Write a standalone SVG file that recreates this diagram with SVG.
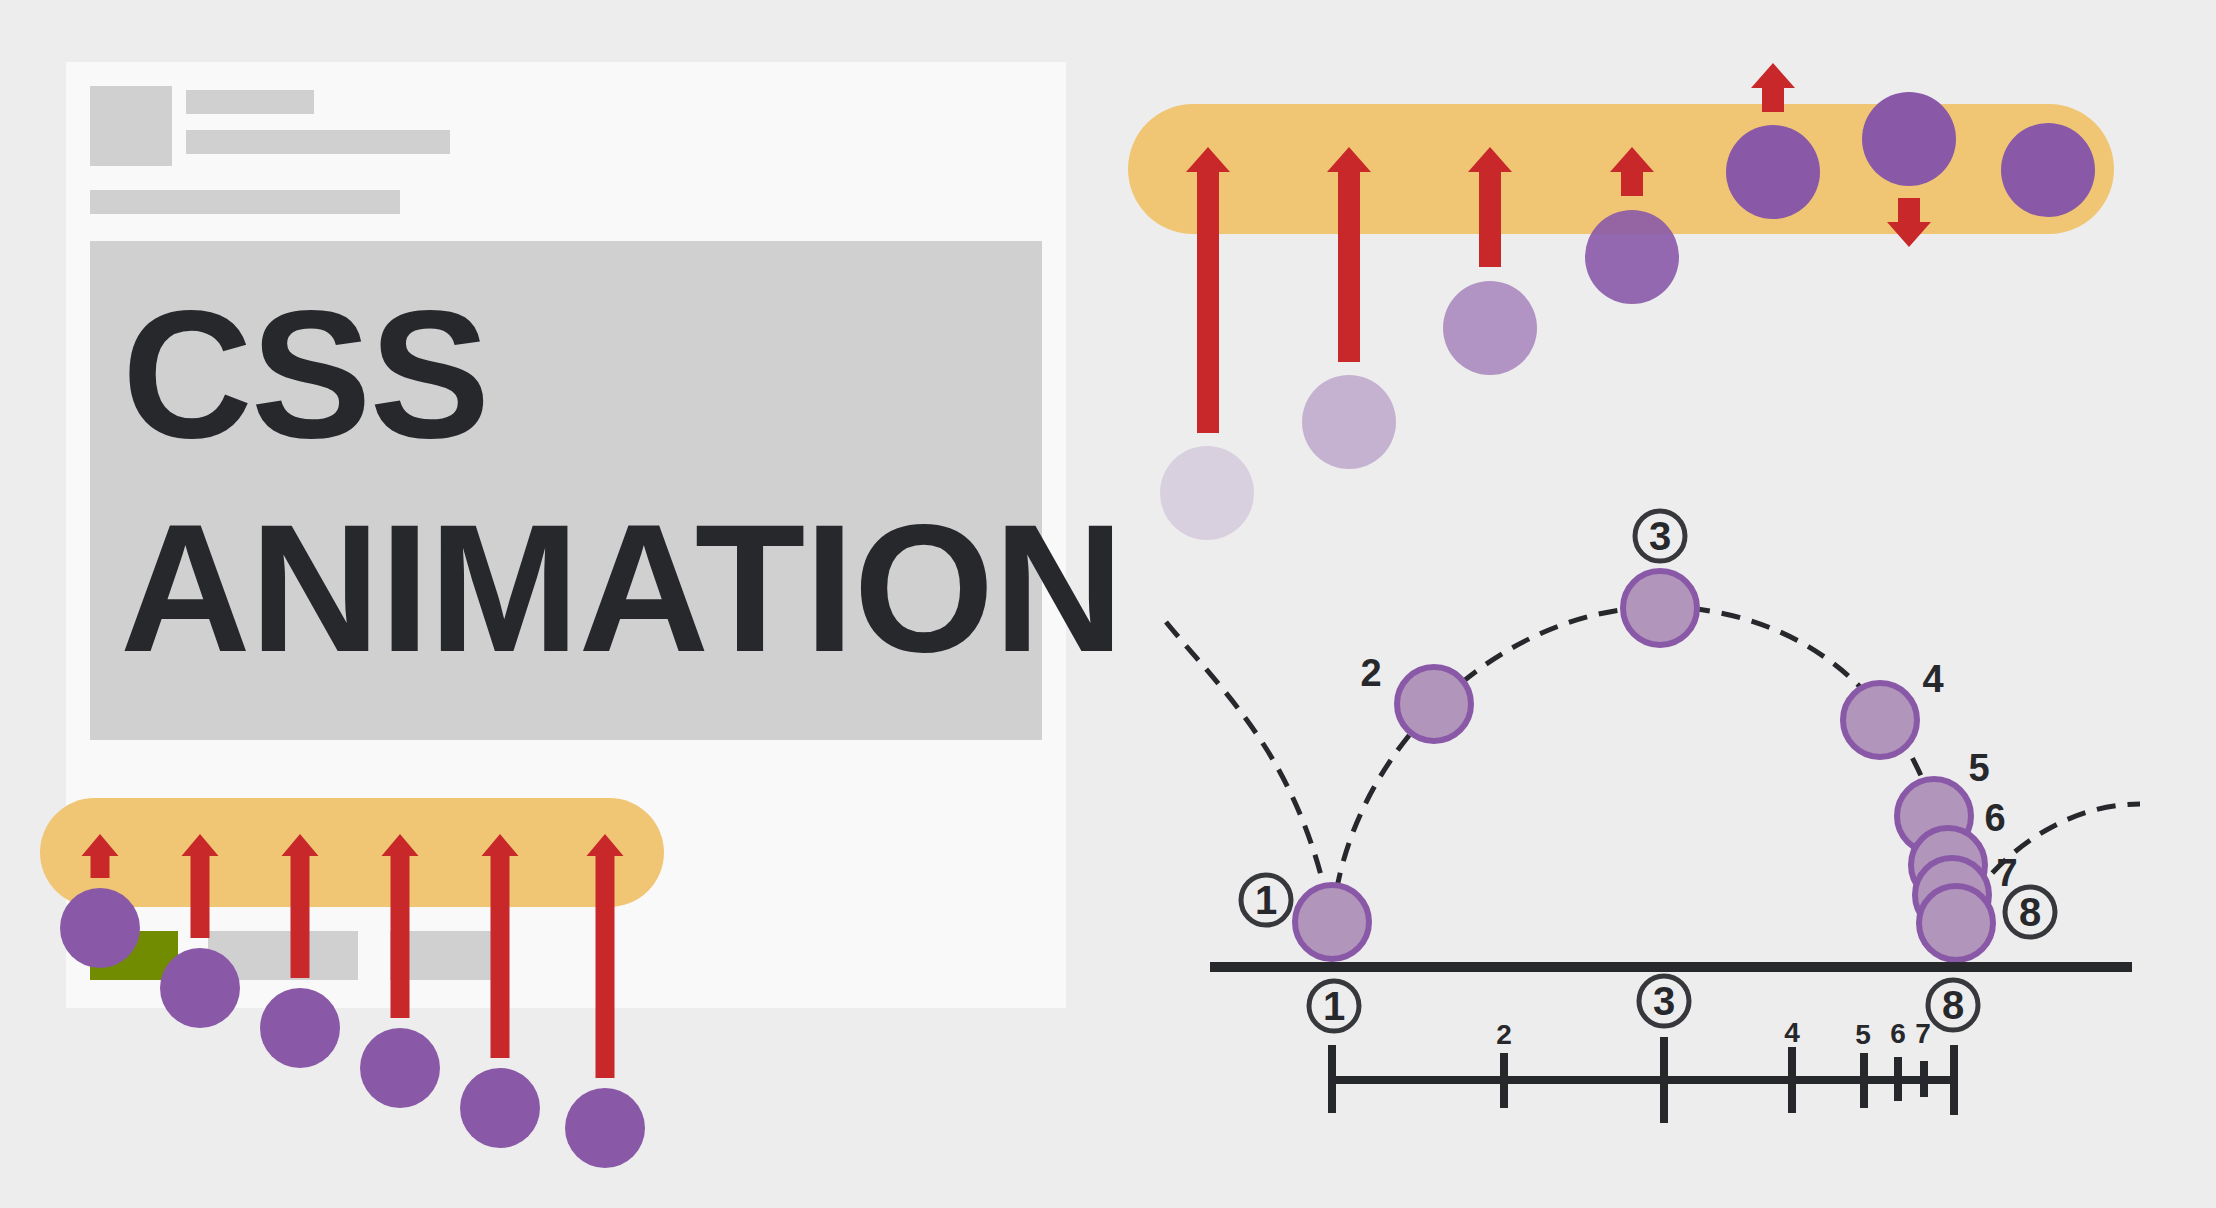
<svg xmlns="http://www.w3.org/2000/svg" width="2216" height="1208" viewBox="0 0 2216 1208">
<style>
.bg{fill:#ededed}
.panel{fill:#f9f9f9}
.gray{fill:#d0d0d0}
.pill{fill:#f0c674}
.arrow{fill:#c82829}
.pball{fill:#8959a8}
.bball{fill:#b195bb;stroke:#8959a8;stroke-width:6}
.dash{fill:none;stroke:#27282c;stroke-width:5;stroke-dasharray:19 12}
.title{font-family:"Liberation Sans",Arial,Helvetica,sans-serif;font-weight:bold;font-size:181px;fill:#27282c}
.num{font-family:"Liberation Sans",Arial,Helvetica,sans-serif;font-weight:bold;fill:#27282c;text-anchor:middle}
.lbl{font-size:38px}
.tick-lbl{font-size:28px}
.cnum{font-size:40px}
.ring{fill:none;stroke:#36383c;stroke-width:5}
.ink{fill:#27282c}
</style>
<rect class="bg" x="0" y="0" width="2216" height="1208"/>

<g id="page">
  <rect class="panel" x="66" y="62" width="1000" height="946"/>
  <rect class="gray" x="90" y="86" width="82" height="80"/>
  <rect class="gray" x="186" y="90" width="128" height="24"/>
  <rect class="gray" x="186" y="130" width="264" height="24"/>
  <rect class="gray" x="90" y="190" width="310" height="24"/>
  <rect class="gray" x="90" y="241" width="952" height="499"/>
  <rect x="90" y="931" width="88" height="49" fill="#718c00"/>
  <rect class="gray" x="208" y="931" width="150" height="49"/>
  <rect class="gray" x="390" y="931" width="110" height="49"/>
</g>

<g id="title">
  <text class="title" x="122" y="437" letter-spacing="-2">CSS</text>
  <text class="title" x="120" y="651" letter-spacing="-1">ANIMATION</text>
</g>

<g id="left-staggered">
  <rect class="pill" x="40" y="798" width="624" height="109" rx="54.5"/>
  <polygon class="arrow" points="100,834 118.5,856 109.5,856 109.5,878 90.5,878 90.5,856 81.5,856"/>
  <polygon class="arrow" points="200,834 218.5,856 209.5,856 209.5,938 190.5,938 190.5,856 181.5,856"/>
  <polygon class="arrow" points="300,834 318.5,856 309.5,856 309.5,978 290.5,978 290.5,856 281.5,856"/>
  <polygon class="arrow" points="400,834 418.5,856 409.5,856 409.5,1018 390.5,1018 390.5,856 381.5,856"/>
  <polygon class="arrow" points="500,834 518.5,856 509.5,856 509.5,1058 490.5,1058 490.5,856 481.5,856"/>
  <polygon class="arrow" points="605,834 623.5,856 614.5,856 614.5,1078 595.5,1078 595.5,856 586.5,856"/>
  <circle class="pball" cx="100" cy="928" r="40"/>
  <circle class="pball" cx="200" cy="988" r="40"/>
  <circle class="pball" cx="300" cy="1028" r="40"/>
  <circle class="pball" cx="400" cy="1068" r="40"/>
  <circle class="pball" cx="500" cy="1108" r="40"/>
  <circle class="pball" cx="605" cy="1128" r="40"/>
</g>

<g id="top-easing">
  <rect class="pill" x="1128" y="104" width="986" height="130" rx="65"/>
  <polygon class="arrow" points="1208,147 1230,172 1219,172 1219,433 1197,433 1197,172 1186,172"/>
  <polygon class="arrow" points="1349,147 1371,172 1360,172 1360,362 1338,362 1338,172 1327,172"/>
  <polygon class="arrow" points="1490,147 1512,172 1501,172 1501,267 1479,267 1479,172 1468,172"/>
  <polygon class="arrow" points="1632,147 1654,172 1643,172 1643,196 1621,196 1621,172 1610,172"/>
  <polygon class="arrow" points="1773,63 1795,88 1784,88 1784,112 1762,112 1762,88 1751,88"/>
  <polygon class="arrow" points="1909,247 1931,222 1920,222 1920,198 1898,198 1898,222 1887,222"/>
  <circle class="pball" cx="1207" cy="493" r="47" fill-opacity="0.2"/>
  <circle class="pball" cx="1349" cy="422" r="47" fill-opacity="0.4"/>
  <circle class="pball" cx="1490" cy="328" r="47" fill-opacity="0.6"/>
  <circle class="pball" cx="1632" cy="257" r="47" fill-opacity="0.9"/>
  <circle class="pball" cx="1773" cy="172" r="47"/>
  <circle class="pball" cx="1909" cy="139" r="47"/>
  <circle class="pball" cx="2048" cy="170" r="47"/>
</g>

<g id="connectors">
  <path class="dash" d="M1166,622 C1230,700 1300,760 1332,922"/>
  <path class="dash" d="M1332,922 C1348,745 1505,607 1660,607"/>
  <path class="dash" d="M1660,607 C1800,607 1940,700 1956,923"/>
  <path class="dash" d="M1956,923 C1990,860 2060,804 2140,804"/>
</g>

<g id="bounce-labels">
  <text class="num lbl" x="1371" y="686">2</text>
  <text class="num lbl" x="1933" y="692">4</text>
  <text class="num lbl" x="1979" y="781">5</text>
  <text class="num lbl" x="1995" y="831">6</text>
  <text class="num lbl" x="2007" y="886">7</text>
</g>

<g id="bounce-balls">
  <circle class="bball" cx="1332" cy="922" r="37"/>
  <circle class="bball" cx="1434" cy="704" r="37"/>
  <circle class="bball" cx="1660" cy="608" r="37"/>
  <circle class="bball" cx="1880" cy="720" r="37"/>
  <circle class="bball" cx="1934" cy="816" r="37"/>
  <circle class="bball" cx="1948" cy="865" r="37"/>
  <circle class="bball" cx="1952" cy="895" r="37"/>
  <circle class="bball" cx="1956" cy="923" r="37"/>
</g>

<g id="ground">
  <rect class="ink" x="1210" y="962" width="922" height="10"/>
</g>

<g id="key-1-top">
  <circle class="ring" cx="1266" cy="900" r="25"/>
  <text class="num cnum" x="1266" y="914">1</text>
</g>
<g id="key-3-top">
  <circle class="ring" cx="1660" cy="536" r="25"/>
  <text class="num cnum" x="1660" y="550">3</text>
</g>
<g id="key-8-top">
  <circle class="ring" cx="2030" cy="912" r="25"/>
  <text class="num cnum" x="2030" y="926">8</text>
</g>
<g id="key-1-bottom">
  <circle class="ring" cx="1334" cy="1006" r="25"/>
  <text class="num cnum" x="1334" y="1020">1</text>
</g>
<g id="key-3-bottom">
  <circle class="ring" cx="1664" cy="1001" r="25"/>
  <text class="num cnum" x="1664" y="1015">3</text>
</g>
<g id="key-8-bottom">
  <circle class="ring" cx="1953" cy="1005" r="25"/>
  <text class="num cnum" x="1953" y="1019">8</text>
</g>

<g id="timeline">
  <rect class="ink" x="1332" y="1076" width="622" height="8"/>
  <rect class="ink" x="1328" y="1045" width="8" height="68"/>
  <rect class="ink" x="1500" y="1053" width="8" height="55"/>
  <rect class="ink" x="1660" y="1037" width="8" height="86"/>
  <rect class="ink" x="1788" y="1047" width="8" height="66"/>
  <rect class="ink" x="1860" y="1053" width="8" height="55"/>
  <rect class="ink" x="1894" y="1057" width="8" height="44"/>
  <rect class="ink" x="1920" y="1061" width="8" height="36"/>
  <rect class="ink" x="1950" y="1045" width="8" height="70"/>
  <text class="num tick-lbl" x="1504" y="1044">2</text>
  <text class="num tick-lbl" x="1792" y="1042">4</text>
  <text class="num tick-lbl" x="1863" y="1044">5</text>
  <text class="num tick-lbl" x="1898" y="1043">6</text>
  <text class="num tick-lbl" x="1923" y="1043">7</text>
</g>
</svg>
